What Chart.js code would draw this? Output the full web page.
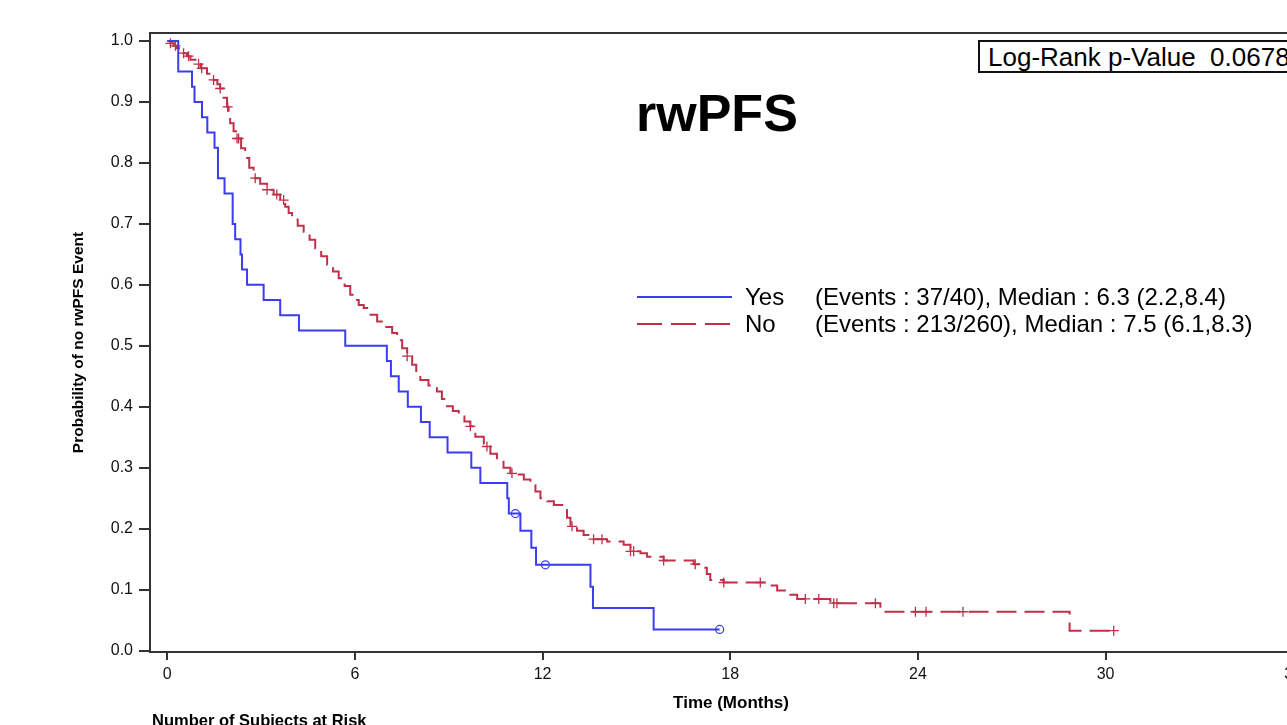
<!DOCTYPE html>
<html><head><meta charset="utf-8">
<script src="https://cdn.jsdelivr.net/npm/chart.js@4"></script>
<style>
html,body{margin:0;padding:0;background:#fff;overflow:hidden;width:1287px;height:725px;}
#wrap{position:absolute;left:0;top:0;width:1320px;height:725px;}
.t{position:absolute;font-family:"Liberation Sans",Arial,sans-serif;color:#000;white-space:pre;line-height:1;}
</style></head><body>
<div id="wrap"><canvas id="c" width="1320" height="725"></canvas></div>
<div class="t" style="left:636px;top:87px;font-size:52px;font-weight:bold;">rwPFS</div>
<div style="position:absolute;left:978px;top:40px;width:420px;height:29px;border:2px solid #111;background:#fff;"></div>
<div class="t" style="left:988px;top:44px;font-size:26px;">Log-Rank p-Value  0.0678</div>
<svg style="position:absolute;left:0;top:0" width="1287" height="725">
  <line x1="637" y1="297" x2="732" y2="297" stroke="#3c3cf0" stroke-width="2"/>
  <line x1="637" y1="324" x2="732" y2="324" stroke="#c0304a" stroke-width="2" stroke-dasharray="25 9"/>
</svg>
<div class="t" style="left:745px;top:285px;font-size:24px;">Yes</div>
<div class="t" style="left:815px;top:285px;font-size:24px;">(Events : 37/40), Median : 6.3 (2.2,8.4)</div>
<div class="t" style="left:745px;top:312px;font-size:24px;">No</div>
<div class="t" style="left:815px;top:312px;font-size:24px;">(Events : 213/260), Median : 7.5 (6.1,8.3)</div>
<div class="t" style="left:152px;top:712px;font-size:16.5px;font-weight:bold;">Number of Subjects at Risk</div>
<script>
// ---- data ----
const yesTimes = [0, 0.35, 0.79, 0.87, 1.11, 1.28, 1.51, 1.62, 1.83, 2.09, 2.17, 2.34, 2.39, 2.55, 3.08, 3.61, 4.21, 5.69, 7.02, 7.15, 7.40, 7.69, 8.11, 8.39, 8.96, 9.72, 10.01, 10.87, 10.92, 11.29, 11.64, 11.79, 13.53, 13.61, 15.55, 17.66];
const yesSurv  = [1.0, 0.95, 0.925, 0.9, 0.875, 0.85, 0.825, 0.775, 0.75, 0.7, 0.675, 0.65, 0.625, 0.6, 0.575, 0.55, 0.525, 0.5, 0.475, 0.45, 0.425, 0.4, 0.375, 0.35, 0.325, 0.3, 0.275, 0.25, 0.225, 0.197, 0.169, 0.141, 0.105, 0.070, 0.035, 0.035];
const yesCensored = [11.13, 12.09, 17.66];

const noTimes = [0, 0.10, 0.20, 0.31, 0.42, 0.52, 0.63, 0.74, 0.90, 1.06, 1.27, 1.48, 1.60, 1.69, 1.80, 1.91, 1.96, 2.01, 2.12, 2.23, 2.36, 2.49, 2.62, 2.76, 2.97, 3.19, 3.40, 3.61, 3.77, 3.88, 3.99, 4.17, 4.36, 4.55, 4.73, 4.92, 5.11, 5.30, 5.48, 5.67, 5.85, 6.00, 6.12, 6.28, 6.50, 6.71, 6.95, 7.19, 7.35, 7.51, 7.67, 7.83, 7.96, 8.09, 8.35, 8.62, 8.78, 8.94, 9.13, 9.32, 9.50, 9.69, 9.85, 10.12, 10.33, 10.54, 10.75, 10.97, 11.18, 11.40, 11.61, 11.77, 11.93, 12.15, 12.36, 12.67, 12.78, 12.89, 13.10, 13.31, 13.63, 14.06, 14.59, 14.81, 15.13, 15.34, 15.87, 16.83, 17.15, 17.25, 17.36, 17.79, 19.28, 19.50, 19.92, 20.14, 21.20, 22.80, 28.85, 30.26];
const noSurv  = [1.0, 0.996, 0.992, 0.988, 0.984, 0.980, 0.975, 0.969, 0.962, 0.955, 0.946, 0.936, 0.929, 0.922, 0.907, 0.892, 0.879, 0.865, 0.852, 0.840, 0.824, 0.808, 0.792, 0.775, 0.766, 0.756, 0.748, 0.739, 0.728, 0.718, 0.707, 0.697, 0.687, 0.674, 0.660, 0.647, 0.633, 0.622, 0.611, 0.598, 0.584, 0.575, 0.567, 0.562, 0.551, 0.540, 0.531, 0.521, 0.509, 0.496, 0.483, 0.469, 0.457, 0.444, 0.435, 0.425, 0.413, 0.401, 0.393, 0.384, 0.376, 0.368, 0.351, 0.335, 0.323, 0.310, 0.300, 0.291, 0.289, 0.281, 0.272, 0.261, 0.250, 0.245, 0.239, 0.231, 0.218, 0.204, 0.197, 0.190, 0.183, 0.179, 0.174, 0.163, 0.160, 0.154, 0.148, 0.142, 0.136, 0.126, 0.116, 0.112, 0.107, 0.099, 0.092, 0.085, 0.078, 0.064, 0.033, 0.033];
const noCensored = [0.10, 0.26, 0.52, 0.68, 1.00, 1.10, 1.48, 1.69, 1.93, 2.23, 2.28, 2.81, 3.19, 3.50, 3.72, 7.67, 9.69, 10.22, 11.02, 12.94, 13.63, 13.90, 14.81, 14.91, 15.87, 16.88, 17.79, 18.96, 20.40, 20.83, 21.31, 21.41, 22.64, 23.92, 24.26, 25.44, 30.26];

const xTicks = [0, 6, 12, 18, 24, 30, 36];
const yTicks = [0, 0.1, 0.2, 0.3, 0.4, 0.5, 0.6, 0.7, 0.8, 0.9, 1.0];

const BLUE = '#3c3cf0', RED = '#c0304a';
const FONT = '"Liberation Sans", Arial, sans-serif';

function survAt(times, surv, t) {
  let s = surv[0];
  for (let i = 0; i < times.length; i++) if (times[i] <= t + 1e-9) s = surv[i];
  return s;
}
const pts = (ts, ss) => ts.map((t, i) => ({x: t, y: ss[i]}));
const cens = (cs, ts, ss) => cs.map(t => ({x: t, y: survAt(ts, ss, t)}));

const framePlugin = {
  id: 'frame',
  afterDatasetsDraw(chart) {
    const {ctx, chartArea: a} = chart;
    ctx.save();
    ctx.strokeStyle = '#333';
    ctx.lineWidth = 2;
    ctx.strokeRect(a.left, a.top, a.right - a.left, a.bottom - a.top);
    ctx.restore();
  }
};

new Chart(document.getElementById('c'), {
  type: 'line',
  data: {
    datasets: [
      {label: 'Yes', data: pts(yesTimes, yesSurv), borderColor: BLUE, borderWidth: 2, stepped: true, pointRadius: 0, fill: false},
      {label: 'No', data: pts(noTimes, noSurv), borderColor: RED, borderWidth: 2, borderDash: [20, 8], stepped: true, pointRadius: 0, fill: false},
      {label: 'Yes censored', type: 'scatter', data: cens(yesCensored, yesTimes, yesSurv), showLine: false, pointStyle: 'circle', pointRadius: 4, borderColor: BLUE, backgroundColor: 'rgba(0,0,0,0)', borderWidth: 1.2},
      {label: 'No censored', type: 'scatter', data: cens(noCensored, noTimes, noSurv), showLine: false, pointStyle: 'cross', pointRadius: 5, borderColor: RED, backgroundColor: RED, borderWidth: 1.3}
    ]
  },
  options: {
    responsive: false,
    animation: false,
    devicePixelRatio: 1,
    layout: {padding: {top: 33, right: 8, bottom: 0, left: 0}},
    plugins: {legend: {display: false}, tooltip: {enabled: false}},
    scales: {
      x: {
        type: 'linear', min: -0.553, max: 36.6,
        afterFit: s => { s.height = 73; },
        afterBuildTicks: s => { s.ticks = xTicks.map(v => ({value: v})); },
        grid: {drawOnChartArea: false, drawTicks: true, tickLength: 8, color: '#333', lineWidth: 2},
        border: {display: false},
        ticks: {padding: 5, color: '#111', font: {family: FONT, size: 16}, callback: v => String(v), maxRotation: 0, autoSkip: false},
        title: {display: true, text: 'Time (Months)', color: '#000', font: {family: FONT, size: 17, weight: 'bold'}, padding: {top: 0, bottom: 11.8}}
      },
      y: {
        type: 'linear', min: -0.002, max: 1.013,
        afterFit: s => { s.width = 150; },
        afterBuildTicks: s => { s.ticks = yTicks.map(v => ({value: v})); },
        grid: {drawOnChartArea: false, drawTicks: true, tickLength: 11, color: '#333', lineWidth: 2},
        border: {display: false},
        ticks: {padding: 6, color: '#111', font: {family: FONT, size: 16}, callback: v => Number(v).toFixed(1), autoSkip: false},
        title: {display: true, text: 'Probability of no rwPFS Event', color: '#000', font: {family: FONT, size: 15.5, weight: 'bold'}, padding: {top: 69.7, bottom: 0}}
      }
    }
  },
  plugins: [framePlugin]
});
</script>
</body></html>
